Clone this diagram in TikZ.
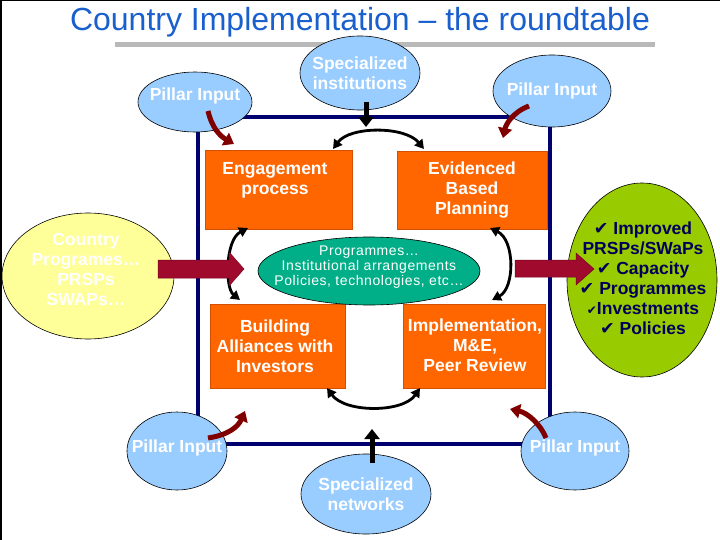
\documentclass[tikz,border=0pt]{standalone}
\usepackage{fontspec}
\setmainfont{Liberation Sans}
\newfontfamily\dejavu{DejaVu Sans}
\newfontfamily\spaced[LetterSpace=4]{Liberation Sans}
\usetikzlibrary{shapes.geometric,arrows.meta}
\definecolor{titleblue}{RGB}{25,95,205}
\definecolor{navyline}{RGB}{0,0,110}
\definecolor{pillarblue}{RGB}{153,204,255}
\definecolor{boxorange}{RGB}{255,102,0}
\definecolor{boxedge}{RGB}{210,80,0}
\definecolor{teal}{RGB}{0,175,135}
\definecolor{lightyellow}{RGB}{255,255,153}
\definecolor{limegreen}{RGB}{153,204,0}
\definecolor{navytext}{RGB}{0,0,90}
\definecolor{maroon}{RGB}{128,0,0}
\definecolor{bigred}{RGB}{160,10,45}
\newcommand{\ck}{{\dejavu\bfseries ✔}}
\newcommand{\smck}{{\dejavu\fontsize{12}{12}\selectfont ✔}}
\begin{document}
\begin{tikzpicture}[x=1pt,y=-1pt,
  ell/.style={ellipse,draw=black,line width=0.6pt,inner sep=0pt},
  pillar/.style={ell,fill=pillarblue},
  obox/.style={rectangle,fill=boxorange,draw=boxedge,line width=0.5pt,inner sep=0pt},
  btxt/.style={align=center,text=white,font=\fontsize{17.5}{20}\selectfont\bfseries,inner sep=0pt},
  cyc/.style={black,line width=2.8pt,{Triangle[length=9pt,width=10pt]}-{Triangle[length=9pt,width=10pt]}},
  feed/.style={black,line width=5pt,-{Triangle[length=10pt,width=15pt]}},
  pin/.style={maroon,line width=5pt,-{Triangle[length=10pt,width=14pt]}},
]
\useasboundingbox (0,0) rectangle (720,540);
% frame
\draw[black,line width=1.5pt] (0.75,540) -- (0.75,0.75) -- (720,0.75);
% title
\node[text=titleblue,font=\fontsize{32}{34}\selectfont,inner sep=0pt] (title) at (360,22) {Country Implementation – the roundtable};
\draw[gray!55,line width=5pt] (115,45) -- (655,45);
% navy square
\draw[navyline,line width=3.5pt] (198,117) rectangle (550,444);
% orange boxes
\node[obox,minimum width=147pt,minimum height=79pt] (eng) at (278.5,189.5) {};
\node[obox,minimum width=150pt,minimum height=78pt] (evi) at (472,190) {};
\node[obox,minimum width=135pt,minimum height=84pt] (bui) at (277.5,346) {};
\node[obox,minimum width=142pt,minimum height=84pt] (imp) at (474,346) {};
\node[btxt] (engt) at (275,180) {Engagement\\process};
\node[btxt] (evit) at (472,190) {Evidenced\\Based\\Planning};
\node[btxt] (buit) at (275,346) {Building\\Alliances with\\Investors};
\node[btxt] (impt) at (475,345) {Implementation,\\M\&E,\\Peer Review};
% central teal ellipse
\node[ell,fill=teal,minimum width=222pt,minimum height=68pt] (prog) at (369,271) {};
\node[align=center,text=white,inner sep=0pt,font=\spaced\fontsize{14}{15}\selectfont] (progt) at (369,267) {Programmes…\\Institutional arrangements\\Policies, technologies, etc…};
% cycle arrows
\draw[cyc] (333,149) .. controls (350,126) and (405,126) .. (424,149);
\draw[cyc] (248,228) .. controls (225,240) and (225,288) .. (240,300);
\draw[cyc] (490,228) .. controls (515,240) and (515,288) .. (492,300);
\draw[cyc] (327,388) .. controls (345,413) and (403,413) .. (420,388);
% pillar / specialized ellipses
\node[pillar,minimum width=114pt,minimum height=60pt] (ptl) at (195,102) {};
\node[pillar,minimum width=118pt,minimum height=72pt] (ptr) at (552,91) {};
\node[pillar,minimum width=120pt,minimum height=74pt] (sin) at (360,73) {};
\node[pillar,minimum width=100pt,minimum height=78pt] (pbl) at (177,451) {};
\node[pillar,minimum width=108pt,minimum height=78pt] (pbr) at (575,451) {};
\node[pillar,minimum width=130pt,minimum height=80pt] (snw) at (366,494) {};
\node[btxt] (ptlt) at (195,96) {Pillar Input};
\node[btxt] (ptrt) at (552,91) {Pillar Input};
\node[btxt] (sint) at (360,73) {Specialized\\institutions};
\node[btxt] (pblt) at (177,448) {Pillar Input};
\node[btxt] (pbrt) at (575,448) {Pillar Input};
\node[btxt] (snwt) at (366,494) {Specialized\\networks};
% side ellipses
\node[ell,fill=lightyellow,minimum width=172pt,minimum height=126pt] (cty) at (88,276) {};
\node[btxt,text=white] (ctyt) at (86,269) {Country\\Programes…\\PRSPs\\SWAPs…};
\node[ell,fill=limegreen,minimum width=150pt,minimum height=194pt] (res) at (642,280) {};
% feed arrows
\coordinate (sinA) at (366,102);
\coordinate (sinB) at (366,127);
\draw[feed] (sinA) -- (sinB);
\coordinate (snwA) at (372,463);
\coordinate (snwB) at (372,429);
\draw[feed] (snwA) -- (snwB);
% pillar input arrows
\coordinate (p1a) at (208,111); \coordinate (p1b) at (234,144);
\draw[pin] (p1a) .. controls (212,128) and (220,136) .. (p1b);
\coordinate (p2a) at (529,106); \coordinate (p2b) at (503,138);
\draw[pin] (p2a) .. controls (513,112) and (506,124) .. (p2b);
\coordinate (p3a) at (208,438); \coordinate (p3b) at (245,411);
\draw[pin] (p3a) .. controls (228,435) and (238,427) .. (p3b);
\coordinate (p4a) at (546,438); \coordinate (p4b) at (510,409);
\draw[pin] (p4a) .. controls (541,425) and (528,413) .. (p4b);
% big arrows
\fill[bigred,draw=bigred!70!black,line width=0.5pt] (158,260) -- (229,260) -- (229,252) -- (244,269) -- (229,286) -- (229,278) -- (158,278) -- cycle;
\fill[bigred,draw=bigred!70!black,line width=0.5pt] (515,260) -- (576,260) -- (576,253) -- (594,269) -- (576,285) -- (576,277) -- (515,277) -- cycle;
% results text
\node[align=center,text=navytext,inner sep=0pt,font=\fontsize{17.5}{20}\selectfont\bfseries] (rest) at (643,278) {\ck\ Improved\\PRSPs/SWaPs\\\ck\ Capacity\\\ck\ Programmes\\\smck Investments\\\ck\ Policies};
\end{tikzpicture}
\end{document}
